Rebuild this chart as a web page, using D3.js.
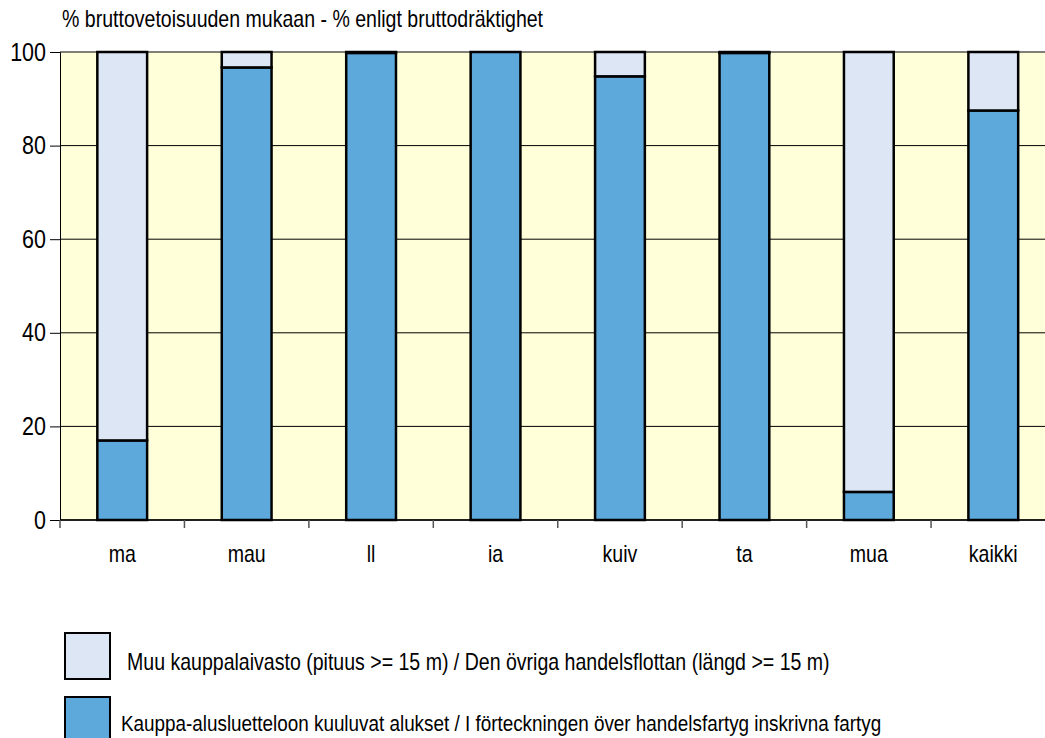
<!DOCTYPE html>
<html lang="fi">
<head>
<meta charset="utf-8">
<style>
    body { margin: 0; background: #fff; }
    svg { display: block; }
    text { font-family: "Liberation Sans Narrow", "Liberation Sans", Arial, sans-serif; fill: #000; }
    .grid line { stroke: #000; stroke-width: 1; }
    .bar { stroke: #000; stroke-width: 2.5; }
</style>
</head>
<body>
<svg width="1045" height="738"></svg>
<script src="https://cdn.jsdelivr.net/npm/d3@7/dist/d3.min.js"></script>
<script>

    // data (% of gross tonnage)
    var categories = ["ma", "mau", "ll", "ia", "kuiv", "ta", "mua", "kaikki"];
    var registered = [17, 96.7, 99.8, 100, 94.8, 99.8, 6, 87.5];
    var other = registered.map(function (d) { return 100 - d; });
    var yTicks = [0, 20, 40, 60, 80, 100];
    var legendLabels = [
        "Muu kauppalaivasto (pituus >= 15 m) / Den övriga handelsflottan (längd >= 15 m)",
        "Kauppa-alusluetteloon kuuluvat alukset / I förteckningen över handelsfartyg inskrivna fartyg"
    ];
    var title = "% bruttovetoisuuden mukaan - % enligt bruttodräktighet";

    var svg = d3.select("svg");
    var colors = { registered: "#5ea9dc", other: "#dce6f5" };

    // no narrow font here, so squeeze the regular one sideways
    var squeeze = 0.85;
    function placeText(sel, fx, fy) {
        sel.attr("transform", function (d, i) {
            return "translate(" + fx(d, i) + "," + fy(d, i) + ") scale(" + squeeze + ",1)";
        });
    }

    var x = d3.scaleBand()
        .domain(categories)
        .range([60, 1055.5])
        .paddingInner(0.6)
        .paddingOuter(0.3);

    var y = d3.scaleLinear()
        .domain([0, 100])
        .range([520, 52]);

    // plot background
    svg.append("rect")
        .attr("x", 60)
        .attr("y", y(100))
        .attr("width", 1045 - 60)
        .attr("height", y(0) - y(100))
        .attr("fill", "#ffffd9");

    // gridlines
    svg.append("g")
        .attr("class", "grid")
        .selectAll("line")
        .data(yTicks)
        .enter().append("line")
        .attr("x1", 60)
        .attr("x2", 1045)
        .attr("y1", function (d) { return y(d); })
        .attr("y2", function (d) { return y(d); });

    // y axis
    var yAxis = svg.append("g")
        .attr("transform", "translate(60,0)")
        .call(d3.axisLeft(y).tickValues(yTicks).tickSize(10));
    yAxis.select(".domain").attr("stroke", "#000");
    yAxis.selectAll(".tick line").attr("stroke", "#000");
    yAxis.selectAll(".tick text")
        .attr("x", 0)
        .attr("font-family", null)
        .attr("font-size", null)
        .style("font-size", "25px")
        .attr("transform", "translate(-14,0) scale(0.86,1)");

    // x axis: ticks on band boundaries, labels centered
    var bounds = categories.map(function (c) { return x(c) - x.step() * x.paddingInner() / 2; });
    svg.append("line")
        .attr("x1", 60).attr("x2", 1045)
        .attr("y1", y(0)).attr("y2", y(0))
        .attr("stroke", "#000").attr("stroke-width", 1.5);
    svg.append("g")
        .selectAll("line")
        .data(bounds)
        .enter().append("line")
        .attr("x1", function (d) { return d; })
        .attr("x2", function (d) { return d; })
        .attr("y1", y(0))
        .attr("y2", y(0) + 8)
        .attr("stroke", "#555")
        .attr("stroke-width", 1.5);
    svg.append("g")
        .selectAll("text")
        .data(categories)
        .enter().append("text")
        .attr("text-anchor", "middle")
        .style("font-size", "23px")
        .text(function (d) { return d; })
        .call(placeText, function (d) { return x(d) + x.bandwidth() / 2; }, function () { return 562; });

    // stacked bars
    var stack = d3.stack().keys(["registered", "other"]);
    var rows = categories.map(function (c, i) {
        return { cat: c, registered: registered[i], other: other[i] };
    });
    var series = stack(rows);

    svg.append("g")
        .selectAll("g")
        .data(series)
        .enter().append("g")
        .attr("fill", function (s) { return colors[s.key]; })
        .selectAll("rect")
        .data(function (s) { return s; })
        .enter().append("rect")
        .attr("class", "bar")
        .attr("x", function (d) { return x(d.data.cat); })
        .attr("y", function (d) { return y(d[1]); })
        .attr("width", x.bandwidth())
        .attr("height", function (d) { return y(d[0]) - y(d[1]); });

    // title
    svg.append("text")
        .style("font-size", "23px")
        .text(title)
        .call(placeText, function () { return 62; }, function () { return 27; });

    // legend
    var legend = svg.append("g");
    var legendFill = [colors.other, colors.registered];
    var legendY = [633, 697];
    legend.selectAll("rect")
        .data(legendFill)
        .enter().append("rect")
        .attr("x", 65)
        .attr("y", function (d, i) { return legendY[i]; })
        .attr("width", 45)
        .attr("height", 46)
        .attr("fill", function (d) { return d; })
        .attr("stroke", "#000")
        .attr("stroke-width", 2);
    legend.selectAll("text")
        .data(legendLabels)
        .enter().append("text")
        .style("font-size", function (d, i) { return i === 0 ? "23px" : "22.2px"; })
        .text(function (d) { return d; })
        .call(placeText,
            function (d, i) { return i === 0 ? 127 : 121; },
            function (d, i) { return [670, 731][i]; });

</script>
</body>
</html>
